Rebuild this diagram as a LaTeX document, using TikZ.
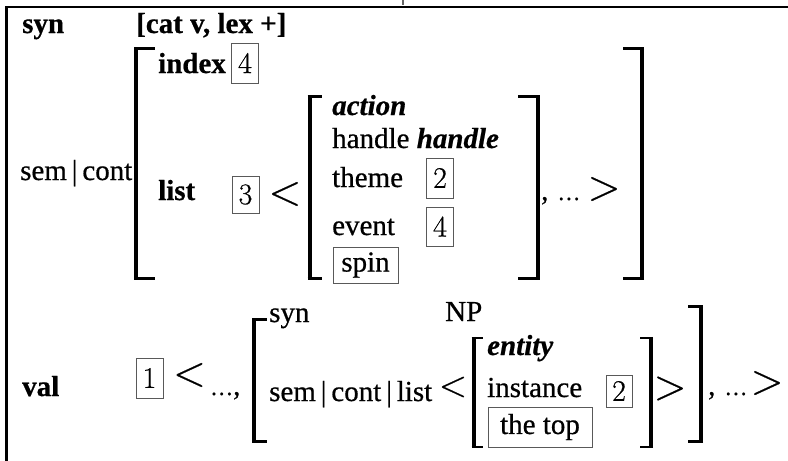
\documentclass[tikz,border=0pt]{standalone}
\usepackage{fontspec}
\setmainfont{Liberation Serif}[FakeBold=0.6]
\newfontfamily\lmfont{Latin Modern Roman}[FakeBold=0.5]
\newcommand\mylbr[4]{% x, ytop, ybot, serif end x
  \draw[line width=4pt] (#1,#2-1.25) -- (#1,#3+1.25);
  \draw[line width=2.5pt] (#1-2,#2) -- (#4,#2);
  \draw[line width=2.5pt] (#1-2,#3) -- (#4,#3);}
\newcommand\myrbr[4]{% x, ytop, ybot, serif start x
  \draw[line width=4pt] (#1,#2-1.25) -- (#1,#3+1.25);
  \draw[line width=2.5pt] (#1+2,#2) -- (#4,#2);
  \draw[line width=2.5pt] (#1+2,#3) -- (#4,#3);}
\newcommand\smalldots{{\fontsize{23}{25}\selectfont\dots}}
\begin{document}
\begin{tikzpicture}[x=1pt,y=-1pt,
  txt/.style={font=\fontsize{29}{32}\selectfont, inner sep=0pt, anchor=base west},
  btxt/.style={txt, font=\fontsize{29}{32}\selectfont\bfseries},
  bitxt/.style={txt, font=\fontsize{29}{32}\selectfont\bfseries\itshape},
  rel/.style={font=\lmfont\fontsize{43}{45}\selectfont, inner sep=0pt, anchor=center},
  numbox/.style={draw=black!65, line width=1pt, inner sep=0pt, minimum width=27pt,
    font=\lmfont\fontsize{30}{32}\selectfont},
  wordbox/.style={draw=black!65, line width=1pt, inner sep=0pt,
    font=\fontsize{29}{32}\selectfont},
  frame/.style={line width=2.5pt}
]
\useasboundingbox (0,0) rectangle (788,461);
% frame
\draw[frame] (5,7) -- (788,7);
\draw[line width=3pt] (6,7) -- (6,461);
\draw[line width=1.5pt, black!60] (403,0) -- (403,5);

% row syn
\node[btxt] (syn1) at (22,33) {syn};
\node[btxt] (cat) at (136,33) {[cat v, lex +]};

% sem|cont
\node[txt] (semcont) at (20,180) {sem\,|\,cont};
\mylbr{136}{48.5}{278.5}{155}
\myrbr{642}{48.5}{278.5}{623}

\node[btxt] (index) at (158,73) {index};
\node[numbox, minimum height=40pt] (b4a) at (245,63) {4};
\node[btxt] (list) at (158,200) {list};
\node[numbox, minimum height=37pt] (b3) at (245.5,194.5) {3};
\node[rel] (lt1) at (285,194) {<};

% inner action AVM
\mylbr{309.5}{96.5}{278.5}{322}
\myrbr{537.5}{96.5}{278.5}{518}
\node[bitxt] (action) at (332,115) {action};
\node[txt] (handle) at (332,148) {handle \textbf{\textit{handle}}};
\node[txt] (theme) at (332,187) {theme};
\node[numbox, minimum height=40pt] (b2a) at (440,178) {2};
\node[txt] (event) at (332,235) {event};
\node[numbox, minimum height=39pt] (b4b) at (440,226.5) {4};
\node[wordbox, minimum width=65pt, minimum height=36pt] (spin) at (365.5,265) {spin};
\node[txt] (dots1) at (541,200) {,\hspace{9pt}\smalldots};
\node[rel] (gt1) at (604,189) {>};

% val
\node[btxt] (val) at (22,396) {val};
\node[numbox, minimum height=40pt] (b1) at (149.5,378) {1};
\node[rel] (lt2) at (189.5,375) {<};
\node[txt] (dots2) at (210,395) {\smalldots,};

\mylbr{254}{319.5}{441.5}{267}
\myrbr{701}{306.5}{441.5}{688}
\node[txt] (syn2) at (269,322) {syn};
\node[txt] (np) at (445,321) {NP};
\node[txt] (scl) at (269,401) {sem\,|\,cont\,|\,list};
\node[rel, font=\lmfont\fontsize{37}{39}\selectfont] (lt3) at (453,387) {<};

\mylbr{473.5}{338}{447}{483}
\myrbr{651}{338}{447}{640}
\node[bitxt] (entity) at (487,355) {entity};
\node[txt] (instance) at (487,397) {instance};
\node[numbox, minimum width=26pt, minimum height=32pt] (b2b) at (619,391) {2};
\node[wordbox, minimum width=104pt, minimum height=40pt] (thetop) at (540,427) {the top};
\node[rel] (gt2) at (670,388.5) {>};
\node[txt] (dots3) at (708,395) {,\hspace{9pt}\smalldots};
\node[rel] (gt3) at (767,383) {>};
\end{tikzpicture}
\end{document}
